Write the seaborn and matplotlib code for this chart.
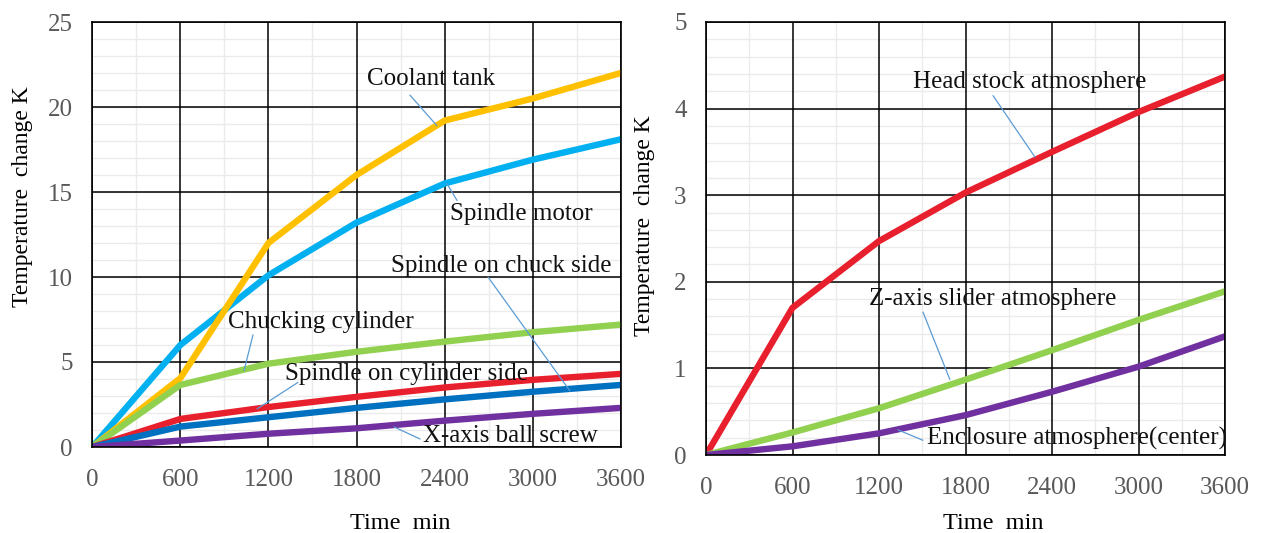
import numpy as np
import pandas as pd
import matplotlib
matplotlib.use('Agg')
import matplotlib.pyplot as plt
import seaborn as sns
from matplotlib.ticker import MultipleLocator

time = [0, 600, 1200, 1800, 2400, 3000, 3600]

# left panel
spindle_motor = [0, 6.0, 10.1, 13.2, 15.5, 16.9, 18.1]
coolant_tank = [0, 4.05, 12.0, 16.0, 19.2, 20.5, 22.0]
chucking_cylinder = [0, 3.65, 4.9, 5.6, 6.2, 6.75, 7.2]
spindle_cyl_side = [0, 1.65, 2.35, 2.95, 3.5, 3.95, 4.3]
spindle_chuck_side = [0, 1.2, 1.75, 2.3, 2.8, 3.25, 3.65]
x_ball_screw = [0, 0.38, 0.78, 1.1, 1.55, 1.95, 2.3]

# right panel
head_stock = [0, 1.7, 2.47, 3.03, 3.5, 3.96, 4.37]
z_slider = [0, 0.26, 0.54, 0.87, 1.21, 1.56, 1.89]
enclosure = [0, 0.1, 0.25, 0.46, 0.73, 1.02, 1.37]

left_series = {
    'Spindle motor': spindle_motor,
    'Coolant tank': coolant_tank,
    'Chucking cylinder': chucking_cylinder,
    'Spindle on cylinder side': spindle_cyl_side,
    'Spindle on chuck side': spindle_chuck_side,
    'X-axis ball screw': x_ball_screw,
}
left_colors = ['#00B0F0', '#FFC000', '#92D050', '#E8202E', '#0070C0', '#7030A0']

right_series = {
    'Head stock atmosphere': head_stock,
    'Z-axis slider atmosphere': z_slider,
    'Enclosure atmosphere(center)': enclosure,
}
right_colors = ['#E8202E', '#92D050', '#7030A0']

# label text position (x, y) and leader line start -> end
left_notes = [
    ('Coolant tank', (1871, 21.3), (2164, 20.7), (2348, 18.9)),
    ('Spindle motor', (2437, 13.35), (2416, 15.5), (2485, 14.5)),
    ('Spindle on chuck side', (2035, 10.3), (2696, 10.0), (3254, 3.3)),
    ('Chucking cylinder', (925, 7.0), (1095, 6.6), (1034, 4.5)),
    ('Spindle on cylinder side', (1312, 3.94), (1401, 3.8), (1122, 2.24)),
    ('X-axis ball screw', (2253, 0.29), (2233, 0.47), (2056, 1.18)),
]
right_notes = [
    ('Head stock atmosphere', (1436, 4.24), (1991, 4.15), (2282, 3.44)),
    ('Z-axis slider atmosphere', (1131, 1.73), (1505, 1.65), (1692, 0.87)),
    ('Enclosure atmosphere(center)', (1533, 0.115), (1505, 0.17), (1332, 0.29)),
]


def to_long(series):
    rows = []
    for name, vals in series.items():
        for t, v in zip(time, vals):
            rows.append({'Time': t, 'Temp': v, 'Series': name})
    return pd.DataFrame(rows)


sns.set_style('white')
plt.rcParams['font.family'] = ['Liberation Serif', 'DejaVu Serif']

fig = plt.figure(figsize=(12.63, 5.33), dpi=100)
ax1 = fig.add_axes([92.3 / 1263, 1 - 447 / 533, 528.4 / 1263, 425 / 533])
ax2 = fig.add_axes([706 / 1263, 1 - 455 / 533, 519 / 1263, 433 / 533])


def draw(ax, series, colors, notes, ymax, ymajor, yminor):
    df = to_long(series)
    # light minor grid under everything, black major grid above it
    for v in np.arange(300, 3600, 600):
        ax.axvline(v, color='#EBEBEB', lw=1.0, zorder=0.2)
    for v in np.arange(yminor, ymax, yminor):
        ax.axhline(v, color='#EBEBEB', lw=1.0, zorder=0.2)
    sns.lineplot(data=df, x='Time', y='Temp', hue='Series', hue_order=list(series.keys()),
                 palette=colors, linewidth=4.6, legend=False, ax=ax)
    ax.set_xlim(0, 3600)
    ax.set_ylim(0, ymax)
    ax.xaxis.set_major_locator(MultipleLocator(600))
    ax.yaxis.set_major_locator(MultipleLocator(ymajor))
    ax.set_axisbelow(True)
    ax.grid(which='major', color='black', lw=1.1)
    for s in ax.spines.values():
        s.set_color('black')
        s.set_linewidth(1.2)
    ax.tick_params(which='both', length=0)
    ax.tick_params(axis='y', pad=14, labelsize=18, labelcolor='#595959')
    ax.tick_params(axis='x', pad=16, labelsize=18, labelcolor='#595959')
    for label, txt, start, end in notes:
        ax.annotate('', xy=end, xytext=start,
                    arrowprops=dict(arrowstyle='-', color='#5B9BD5', lw=0.9,
                                    shrinkA=0, shrinkB=0))
        ax.text(txt[0], txt[1], label, fontsize=18, color='#111111',
                ha='left', va='baseline')
    ax.set_xlabel('Time  min', fontsize=17.5, color='black', va='center')
    ax.set_ylabel('Temperature  change K', fontsize=17, color='black', va='center')


draw(ax1, left_series, left_colors, left_notes, 25, 5, 1)
draw(ax2, right_series, right_colors, right_notes, 5, 1, 0.2)

ax1.xaxis.set_label_coords(0.582, -0.18)
ax1.yaxis.set_label_coords(-0.133, 0.59)
ax2.xaxis.set_label_coords(0.553, -0.158)
ax2.yaxis.set_label_coords(-0.118, 0.53)

fig.savefig('out.png', dpi=100)
